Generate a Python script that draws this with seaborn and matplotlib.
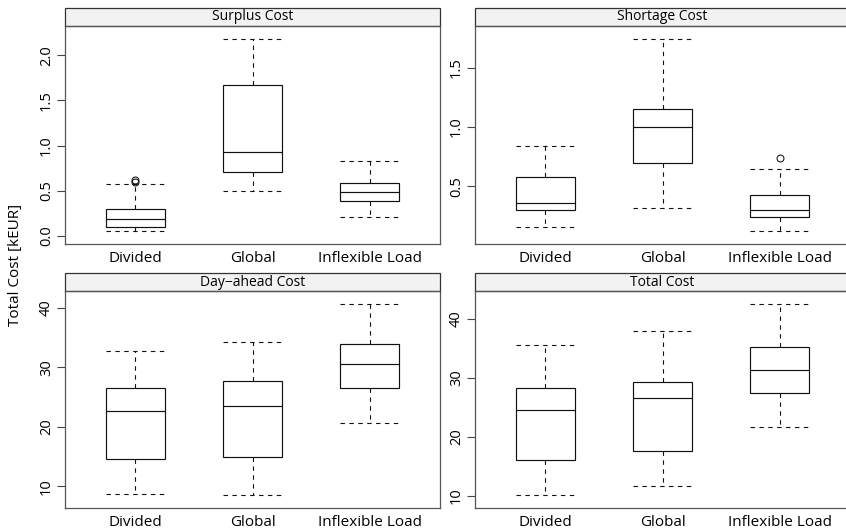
import matplotlib

matplotlib.use("Agg")
import matplotlib.pyplot as plt
import numpy as np
import pandas as pd
import seaborn as sns
from matplotlib.patches import Rectangle
from matplotlib.ticker import MultipleLocator

# scenarios on the x axis of every panel
scenarios = ["Divided", "Global", "Inflexible Load"]

# five-number summaries: (low whisker, Q1, median, Q3, high whisker)
surplus_stats = [(0.06, 0.104, 0.186, 0.297, 0.571),
                 (0.494, 0.712, 0.931, 1.666, 2.174),
                 (0.208, 0.382, 0.486, 0.590, 0.835)]
surplus_outliers = [[0.600, 0.620], [], []]

shortage_stats = [(0.158, 0.297, 0.364, 0.576, 0.842),
                  (0.319, 0.694, 1.002, 1.155, 1.740),
                  (0.127, 0.243, 0.297, 0.427, 0.644)]
shortage_outliers = [[], [], [0.743]]

dayahead_stats = [(8.7, 14.6, 22.6, 26.5, 32.8),
                  (8.6, 15.0, 23.5, 27.7, 34.2),
                  (20.6, 26.5, 30.5, 33.9, 40.6)]
dayahead_outliers = [[], [], []]

total_stats = [(10.2, 16.0, 24.6, 28.2, 35.5),
               (11.6, 17.6, 26.6, 29.3, 37.9),
               (21.6, 27.4, 31.3, 35.2, 42.4)]
total_outliers = [[], [], []]

panel_titles = ["Surplus Cost", "Shortage Cost", "Day\u2212ahead Cost", "Total Cost"]
tick_steps = [0.5, 0.5, 10, 10]

FONT = ["Open Sans", "DejaVu Sans"]


def to_long(stats, outliers):
    """Expand summaries into a sample whose quartiles/whiskers match them."""
    rows = []
    for name, (lo, q1, med, q3, hi), outs in zip(scenarios, stats, outliers):
        k = len(outs) + 1
        vals = [lo] * k + [q1] * k + [med] + [q3] * k + [hi] + list(outs)
        rows += [(name, v) for v in vals]
    return pd.DataFrame(rows, columns=["scenario", "cost"])


sns.set_style("white")
plt.rcParams["font.family"] = FONT
plt.rcParams["text.color"] = "black"
plt.rcParams["xtick.color"] = "black"
plt.rcParams["ytick.color"] = "black"

W, H = 846, 531
fig = plt.figure(figsize=(W / 100, H / 100), dpi=100)

boxes = [(65, 26, 244), (475, 26, 244), (65, 291, 508), (475, 291, 508)]
panels = [(surplus_stats, surplus_outliers), (shortage_stats, shortage_outliers),
          (dayahead_stats, dayahead_outliers), (total_stats, total_outliers)]

dash = (0, (4, 4))
for (x0, top, bot), (stats, outs), title, step in zip(boxes, panels, panel_titles, tick_steps):
    ax = fig.add_axes([x0 / W, 1 - bot / H, 375 / W, (bot - top) / H])
    df = to_long(stats, outs)
    sns.boxplot(
        data=df, x="scenario", y="cost", order=scenarios, ax=ax,
        color="white", linecolor="#111111", linewidth=0.85, width=0.5,
        whiskerprops=dict(linestyle=dash, linewidth=0.8),
        capprops=dict(linestyle=dash, linewidth=0.8),
        medianprops=dict(color="#111111", linewidth=0.85),
        flierprops=dict(marker="o", markerfacecolor="none", markeredgecolor="black",
                        markersize=5, markeredgewidth=0.7),
    )
    # caps as wide as the boxes (lattice style)
    for ln in ax.lines:
        xd, yd = np.asarray(ln.get_xdata(), float), np.asarray(ln.get_ydata(), float)
        if len(xd) == 2 and yd[0] == yd[1] and xd[0] != xd[1]:
            c = xd.mean()
            ln.set_xdata([c - 0.25, c + 0.25])

    allv = df["cost"]
    pad = 0.07 * (allv.max() - allv.min())
    ax.set_ylim(allv.min() - pad, allv.max() + pad)
    ax.set_xlim(-0.6, 2.6)
    ax.yaxis.set_major_locator(MultipleLocator(step))
    ax.set_xlabel("")
    ax.set_ylabel("")
    ax.tick_params(axis="x", length=0, pad=5, labelsize=11)
    ax.tick_params(axis="y", left=True, length=6, width=0.8, color="#444444",
                   pad=2, labelsize=10.5)
    for lab in ax.get_yticklabels():
        lab.set_rotation(90)
        lab.set_va("center")
    for sp in ax.spines.values():
        sp.set_color("#555555")
        sp.set_linewidth(0.9)

    # strip on top of each panel
    h = 18 / (bot - top)
    ax.add_patch(Rectangle((0, 1), 1, h, transform=ax.transAxes, clip_on=False,
                           facecolor="#F2F2F2", edgecolor="#333333", linewidth=0.9))
    ax.text(0.5, 1 + h / 2, title, transform=ax.transAxes, ha="center", va="center",
            fontsize=10)

fig.text(16 / W, 1 - 265 / H, "Total Cost [kEUR]", rotation=90, ha="center",
         va="center", fontsize=11)

fig.savefig("out.png", dpi=100)
